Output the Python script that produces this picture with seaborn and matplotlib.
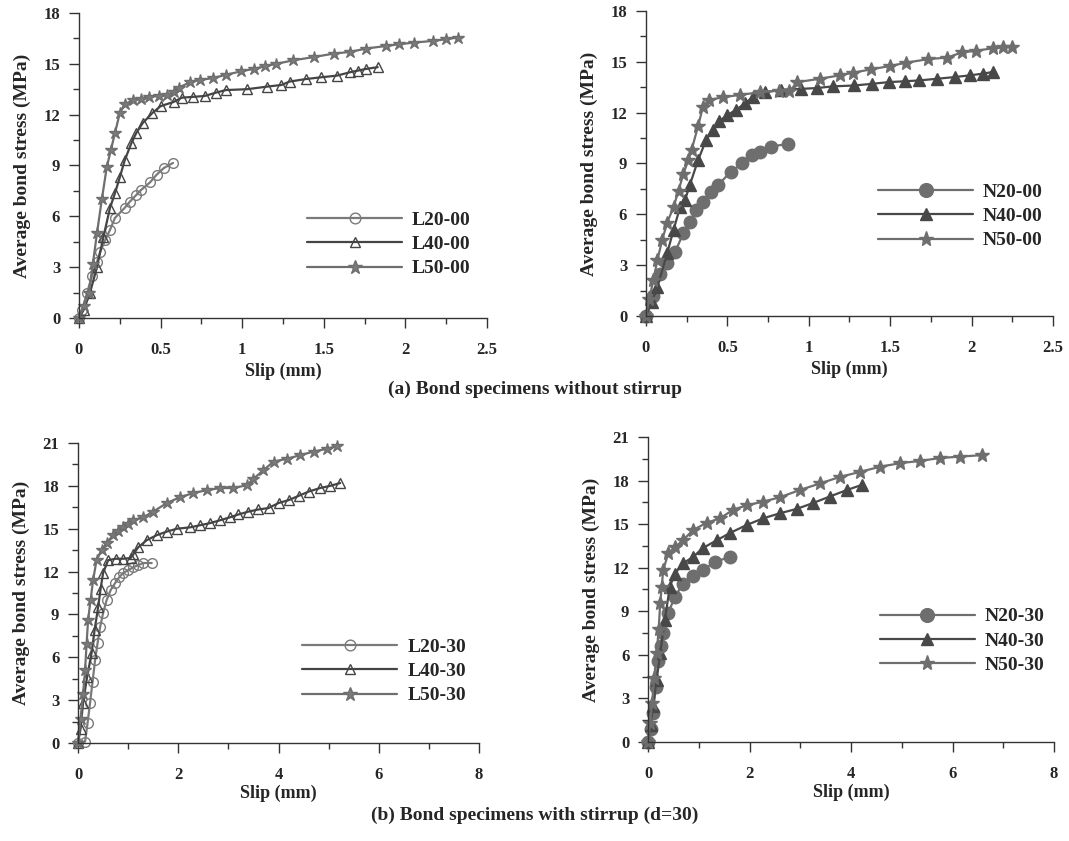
import matplotlib
matplotlib.use('Agg')
import matplotlib.pyplot as plt
import seaborn as sns
from matplotlib.ticker import MultipleLocator, FuncFormatter

# ---- (a) without stirrup ----
l20_00_s = [0, 0.02, 0.05, 0.08, 0.11, 0.13, 0.16, 0.19, 0.22, 0.28, 0.31, 0.35, 0.38, 0.435, 0.475, 0.52, 0.576]
l20_00_v = [0, 0.5, 1.5, 2.5, 3.3, 3.9, 4.6, 5.2, 5.9, 6.5, 6.85, 7.25, 7.55, 8.0, 8.45, 8.85, 9.15]
l40_00_s = [0, 0.03, 0.067, 0.11, 0.15, 0.19, 0.22, 0.25, 0.28, 0.32, 0.35, 0.39, 0.45, 0.5, 0.58, 0.63, 0.70,
            0.77, 0.84, 0.9, 1.03, 1.15, 1.24, 1.29, 1.39, 1.48, 1.58, 1.66, 1.71, 1.76, 1.83]
l40_00_v = [0, 0.5, 1.47, 3.0, 4.8, 6.5, 7.35, 8.3, 9.3, 10.3, 10.9, 11.5, 12.1, 12.5, 12.75, 13.0, 13.05,
            13.1, 13.3, 13.45, 13.5, 13.65, 13.75, 13.95, 14.1, 14.2, 14.3, 14.5, 14.6, 14.7, 14.8]
l50_00_s = [0, 0.03, 0.06, 0.085, 0.11, 0.14, 0.17, 0.195, 0.22, 0.25, 0.28, 0.33, 0.38, 0.43, 0.49, 0.54, 0.58,
            0.61, 0.68, 0.74, 0.82, 0.9, 0.99, 1.07, 1.14, 1.21, 1.31, 1.44, 1.56, 1.66, 1.76, 1.88, 1.96,
            2.05, 2.17, 2.25, 2.32]
l50_00_v = [0, 0.7, 1.5, 3.2, 5.0, 7.0, 8.9, 9.9, 10.9, 12.1, 12.6, 12.85, 12.95, 13.05, 13.1, 13.15, 13.35,
            13.6, 13.9, 14.05, 14.15, 14.35, 14.55, 14.7, 14.85, 15.0, 15.2, 15.4, 15.6, 15.7, 15.9, 16.05, 16.15,
            16.25, 16.35, 16.45, 16.55]

n20_00_s = [0, 0.04, 0.086, 0.13, 0.18, 0.23, 0.27, 0.31, 0.35, 0.4, 0.44, 0.52, 0.59, 0.65, 0.70, 0.77, 0.87]
n20_00_v = [0, 1.2, 2.5, 3.1, 3.8, 4.9, 5.55, 6.25, 6.75, 7.3, 7.7, 8.5, 9.0, 9.5, 9.7, 10.0, 10.15]
n40_00_s = [0, 0.035, 0.07, 0.13, 0.17, 0.21, 0.24, 0.27, 0.32, 0.37, 0.41, 0.45, 0.5, 0.55, 0.61, 0.66, 0.73,
            0.83, 0.95, 1.05, 1.15, 1.28, 1.39, 1.49, 1.59, 1.68, 1.79, 1.9, 1.99, 2.07, 2.13]
n40_00_v = [0, 0.8, 1.7, 3.7, 5.1, 6.45, 6.85, 7.75, 9.2, 10.4, 11.0, 11.5, 11.85, 12.15, 12.55, 12.95, 13.2,
            13.35, 13.4, 13.45, 13.55, 13.6, 13.7, 13.8, 13.85, 13.9, 14.0, 14.1, 14.2, 14.3, 14.4]
n50_00_s = [0, 0.02, 0.045, 0.07, 0.1, 0.13, 0.17, 0.2, 0.23, 0.26, 0.28, 0.32, 0.35, 0.39, 0.47, 0.58, 0.70,
            0.82, 0.88, 0.93, 1.07, 1.19, 1.27, 1.38, 1.5, 1.6, 1.73, 1.85, 1.94, 2.03, 2.13, 2.19, 2.25]
n50_00_v = [0, 1.0, 2.1, 3.3, 4.5, 5.5, 6.45, 7.4, 8.4, 9.2, 9.8, 11.2, 12.35, 12.75, 12.9, 13.05, 13.2,
            13.3, 13.25, 13.8, 14.0, 14.2, 14.35, 14.55, 14.75, 14.95, 15.15, 15.25, 15.55, 15.65, 15.8, 15.85, 15.9]

# ---- (b) with stirrup ----
l20_30_s = [0, 0.14, 0.19, 0.24, 0.29, 0.34, 0.39, 0.44, 0.5, 0.57, 0.65, 0.74, 0.82, 0.9, 1.0, 1.1, 1.2, 1.3, 1.47]
l20_30_v = [0, 0.1, 1.4, 2.8, 4.3, 5.8, 7.0, 8.1, 9.1, 10.0, 10.7, 11.2, 11.6, 11.9, 12.1, 12.3, 12.45, 12.6, 12.6]
l40_30_s = [0, 0.05, 0.1, 0.18, 0.27, 0.33, 0.4, 0.45, 0.5, 0.6, 0.75, 0.9, 1.05, 1.1, 1.2, 1.37, 1.57, 1.77,
            1.97, 2.24, 2.44, 2.64, 2.84, 3.03, 3.2, 3.4, 3.6, 3.8, 4.0, 4.2, 4.4, 4.6, 4.83, 5.03, 5.23]
l40_30_v = [0, 1.0, 2.8, 4.6, 6.3, 7.9, 9.5, 10.8, 11.9, 12.8, 12.9, 12.9, 12.95, 13.2, 13.7, 14.2, 14.55, 14.8,
            15.0, 15.1, 15.25, 15.4, 15.6, 15.8, 16.0, 16.2, 16.35, 16.45, 16.8, 17.0, 17.3, 17.6, 17.85, 18.0, 18.2]
l50_30_s = [0, 0.05, 0.1, 0.14, 0.17, 0.2, 0.25, 0.3, 0.37, 0.47, 0.57, 0.7, 0.8, 0.9, 1.0, 1.1, 1.3, 1.5, 1.77,
            2.03, 2.3, 2.57, 2.84, 3.1, 3.37, 3.5, 3.7, 3.9, 4.17, 4.43, 4.7, 4.97, 5.17]
l50_30_v = [0, 1.7, 3.4, 5.1, 6.9, 8.6, 10.0, 11.4, 12.8, 13.5, 14.0, 14.55, 14.85, 15.1, 15.35, 15.6, 15.8, 16.2,
            16.8, 17.2, 17.5, 17.7, 17.85, 17.85, 18.05, 18.5, 19.1, 19.7, 19.9, 20.15, 20.4, 20.6, 20.8]

n20_30_s = [0, 0.05, 0.1, 0.15, 0.2, 0.25, 0.3, 0.4, 0.53, 0.69, 0.89, 1.08, 1.32, 1.62]
n20_30_v = [0, 0.9, 2.0, 3.8, 5.6, 6.6, 7.5, 8.9, 10.0, 10.9, 11.4, 11.85, 12.4, 12.75]
n40_30_s = [0, 0.05, 0.1, 0.17, 0.24, 0.33, 0.43, 0.53, 0.69, 0.89, 1.08, 1.36, 1.62, 1.95, 2.27, 2.6, 2.93,
            3.25, 3.58, 3.92, 4.21]
n40_30_v = [0, 1.2, 2.5, 4.3, 6.1, 8.4, 10.7, 11.6, 12.3, 12.75, 13.35, 13.9, 14.4, 14.95, 15.4, 15.75, 16.05,
            16.45, 16.9, 17.35, 17.7]
n50_30_s = [0, 0.04, 0.08, 0.12, 0.17, 0.21, 0.24, 0.27, 0.3, 0.4, 0.53, 0.69, 0.89, 1.16, 1.42, 1.68, 1.95, 2.27,
            2.6, 2.99, 3.39, 3.78, 4.18, 4.57, 4.97, 5.36, 5.75, 6.15, 6.58]
n50_30_v = [0, 1.3, 2.7, 4.4, 6.1, 7.8, 9.55, 10.7, 11.85, 13.0, 13.4, 13.9, 14.6, 15.1, 15.4, 16.0, 16.3, 16.55,
            16.85, 17.35, 17.8, 18.25, 18.6, 18.95, 19.2, 19.35, 19.55, 19.65, 19.75]

captions = ['(a) Bond specimens without stirrup', '(b) Bond specimens with stirrup (d=30)']

sns.set_style('ticks')
plt.rcParams['font.family'] = ['Liberation Serif', 'DejaVu Serif']
plt.rcParams['font.weight'] = 'bold'

fig = plt.figure(figsize=(10.69, 8.41), dpi=100)

panels = [
    # rect, xmax, xstep, ymax, series, legend anchor
    ([0.0739, 0.6219, 0.3817, 0.3627], 2.5, 0.5, 18, [
        ('L20-00', l20_00_s, l20_00_v, 'o', '#7a7a7a', 'none', 7),
        ('L40-00', l40_00_s, l40_00_v, '^', '#444444', 'none', 7),
        ('L50-00', l50_00_s, l50_00_v, '*', '#6e6e6e', '#7a7a7a', 9)], (0.559, 0.351), 3),
    ([0.6043, 0.6243, 0.3807, 0.3627], 2.5, 0.5, 18, [
        ('N20-00', n20_00_s, n20_00_v, 'o', '#6e6e6e', '#6e6e6e', 9),
        ('N40-00', n40_00_s, n40_00_v, '^', '#484848', '#484848', 8),
        ('N50-00', n50_00_s, n50_00_v, '*', '#6e6e6e', '#6e6e6e', 10)], (0.57, 0.436), 3),
    ([0.0730, 0.1165, 0.3751, 0.3567], 8, 2, 21, [
        ('L20-30', l20_30_s, l20_30_v, 'o', '#7a7a7a', 'none', 7),
        ('L40-30', l40_30_s, l40_30_v, '^', '#444444', 'none', 7),
        ('L50-30', l50_30_s, l50_30_v, '*', '#6e6e6e', '#7a7a7a', 9)], (0.559, 0.35), 1),
    ([0.0062 + 0.6, 0.1177, 0.3798, 0.3627], 8, 2, 21, [
        ('N20-30', n20_30_s, n20_30_v, 'o', '#6e6e6e', '#6e6e6e', 9),
        ('N40-30', n40_30_s, n40_30_v, '^', '#484848', '#484848', 8),
        ('N50-30', n50_30_s, n50_30_v, '*', '#6e6e6e', '#6e6e6e', 10)], (0.571, 0.44), 1),
]

fmt = FuncFormatter(lambda v, p: '%g' % v)

for rect, xmax, xstep, ymax, series, anchor, xlpad in panels:
    ax = fig.add_axes(rect)
    for name, xs, ys, mk, col, fc, ms in series:
        sns.lineplot(x=xs, y=ys, ax=ax, sort=False, color=col, linewidth=1.6,
                     marker=mk, markersize=ms, markerfacecolor=fc, markeredgecolor=col,
                     markeredgewidth=1.0, label=name, clip_on=False)
    ax.set_xlim(0, xmax)
    ax.set_ylim(0, ymax)
    ax.xaxis.set_major_locator(MultipleLocator(xstep))
    ax.xaxis.set_minor_locator(MultipleLocator(xstep / 2))
    ax.yaxis.set_major_locator(MultipleLocator(3))
    ax.yaxis.set_minor_locator(MultipleLocator(1.5))
    ax.xaxis.set_major_formatter(fmt)
    ax.tick_params(which='major', length=7.5, width=1, color='#333333', labelsize=12)
    ax.tick_params(which='minor', length=4, width=1, color='#333333')
    ax.tick_params(axis='x', which='major', pad=10)
    ax.tick_params(axis='y', which='major', pad=6)
    for lab in ax.get_xticklabels() + ax.get_yticklabels():
        lab.set_fontweight('bold')
    sns.despine(ax=ax)
    for sp in ['left', 'bottom']:
        ax.spines[sp].set_color('#333333')
        ax.spines[sp].set_linewidth(1)
    ax.set_xlabel('Slip (mm)', fontsize=13, fontweight='bold', labelpad=xlpad)
    ax.set_ylabel('Average bond stress (MPa)', fontsize=14, fontweight='bold', labelpad=9)
    ax.legend(loc='upper left', bbox_to_anchor=anchor, frameon=False,
              handlelength=4.9, handletextpad=0.5, labelspacing=0.35,
              borderpad=0, borderaxespad=0, markerscale=1.1,
              prop={'weight': 'bold', 'size': 14})

fig.text(0.5, 0.5375, captions[0], ha='center', va='center', fontsize=14, fontweight='bold')
fig.text(0.5, 0.031, captions[1], ha='center', va='center', fontsize=14, fontweight='bold')

fig.savefig('out.png', dpi=100)
